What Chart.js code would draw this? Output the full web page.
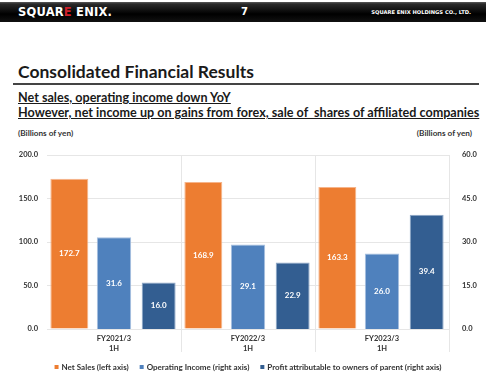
<!DOCTYPE html>
<html>
<head>
<meta charset="utf-8">
<script src="https://cdn.jsdelivr.net/npm/chart.js@4.4.1/dist/chart.umd.min.js"></script>
<style>
  body { margin: 0; width: 486px; height: 382px; background: #fff; font-family: Lato, "Liberation Sans", sans-serif; color: #1a1a1a; overflow: hidden; position: relative; }
  .header { position: absolute; left: 0; top: 2px; width: 486px; height: 20px; background: linear-gradient(#5a5a5a 0, #2a2a2a 2px, #000 60%, #111 100%); }
  .logo { position: absolute; left: 18px; top: 3px; color: #fff; font: bold 11.5px "DejaVu Sans", sans-serif; letter-spacing: 0.2px; }
  .logo span { color: #d0202a; }
  .page { position: absolute; left: 241px; top: 4px; color: #fff; font: bold 10px "DejaVu Sans", sans-serif; }
  .corp { position: absolute; right: 15px; top: 7px; color: #fff; font: bold 5.2px "DejaVu Sans", sans-serif; }
  .title { position: absolute; left: 18px; top: 61px; font-weight: bold; font-size: 17.5px; }
  .rule { position: absolute; left: 13px; top: 83px; width: 466px; height: 2px; background: #444; }
  .sub { position: absolute; left: 18px; font-weight: bold; font-size: 12.6px; text-decoration: underline; white-space: nowrap; }
  .unit { position: absolute; top: 128px; font-size: 8.2px; font-weight: bold; color: #333; }
  #wrap { position: absolute; left: 0; top: 120px; width: 486px; height: 262px; }
</style>
</head>
<body>
<div class="header">
  <div class="logo">SQUAR<span>E</span> ENIX.</div>
  <div class="page">7</div>
  <div class="corp">SQUARE ENIX HOLDINGS CO., LTD.</div>
</div>
<div class="title">Consolidated Financial Results</div>
<div class="rule"></div>
<div class="sub" style="top: 90px;">Net sales, operating income down YoY</div>
<div class="sub" style="top: 105px;">However, net income up on gains from forex, sale of&nbsp; shares of affiliated companies</div>
<div class="unit" style="left: 18px;">(Billions of yen)</div>
<div class="unit" style="right: 14px;">(Billions of yen)</div>
<div id="wrap"><canvas id="chart"></canvas></div>
<script>
// categories and series (billions of yen)
const periods = [['FY2021/3', '1H'], ['FY2022/3', '1H'], ['FY2023/3', '1H']];
const netSales = [172.7, 168.9, 163.3];
const operatingIncome = [31.6, 29.1, 26.0];
const profitParent = [16.0, 22.9, 39.4];

const leftTicks = [0, 50, 100, 150, 200];
const rightTicks = [0, 15, 30, 45, 60];

// white value labels centred in each bar
const valueLabels = {
  id: 'valueLabels',
  afterDatasetsDraw(chart) {
    const ctx = chart.ctx;
    ctx.save();
    ctx.fillStyle = '#ffffff';
    ctx.font = 'bold 8px Lato, sans-serif';
    ctx.textAlign = 'center';
    ctx.textBaseline = 'middle';
    chart.data.datasets.forEach((ds, i) => {
      chart.getDatasetMeta(i).data.forEach((bar, j) => {
        const p = bar.getProps(['x', 'y', 'base'], true);
        ctx.fillText(ds.data[j].toFixed(1), p.x, (p.y + p.base) / 2);
      });
    });
    ctx.restore();
  }
};

// compact one-row legend under the axis (built-in legend pads too much vertically)
const legendRow = {
  id: 'legendRow',
  afterDraw(chart) {
    const ctx = chart.ctx;
    const area = chart.chartArea;
    const box = 4, gap = 3, spacing = 11;
    ctx.save();
    ctx.font = 'bold 8px Lato, sans-serif';
    ctx.textBaseline = 'middle';
    const items = chart.data.datasets.map(ds => ({
      text: ds.label,
      color: ds.backgroundColor,
      w: box + gap + ctx.measureText(ds.label).width
    }));
    const total = items.reduce((s, it) => s + it.w, 0) + spacing * (items.length - 1);
    let x = (area.left + area.right) / 2 - total / 2;
    const y = area.bottom + 38;
    items.forEach(it => {
      ctx.fillStyle = it.color;
      ctx.fillRect(x, y - box / 2, box, box);
      ctx.fillStyle = '#333';
      ctx.fillText(it.text, x + box + gap, y);
      x += it.w + spacing;
    });
    ctx.restore();
  }
};

const tickFont = { family: 'Lato, sans-serif', size: 7.5, weight: 'bold' };

new Chart(document.getElementById('chart'), {
  type: 'bar',
  data: {
    labels: periods,
    datasets: [
      { label: 'Net Sales (left axis)', data: netSales, yAxisID: 'y', barPercentage: 0.85,
        backgroundColor: '#ED7D31', borderColor: '#F6B48A', borderWidth: 1 },
      { label: 'Operating Income (right axis)', data: operatingIncome, yAxisID: 'y1', barPercentage: 0.77,
        backgroundColor: '#4F81BD', borderColor: '#A7C0E0', borderWidth: 1 },
      { label: 'Profit attributable to owners of parent (right axis)', data: profitParent, yAxisID: 'y1', barPercentage: 0.76,
        backgroundColor: '#335E91', borderColor: '#8FA8C8', borderWidth: 1 }
    ]
  },
  options: {
    responsive: true,
    maintainAspectRatio: false,
    animation: false,
    categoryPercentage: 1.0,
    layout: { padding: { top: 35, bottom: 23, left: 0, right: 0 } },
    plugins: {
      legend: { display: false },
      tooltip: { enabled: false }
    },
    scales: {
      x: {
        border: { display: false },
        grid: {
          offset: true,
          tickLength: 23,
          color: (c) => (c.index === 0 || c.index === periods.length) ? 'rgba(0,0,0,0)' : '#e6e6e6'
        },
        ticks: { padding: -18, color: '#333', font: { ...tickFont, lineHeight: 1.3 } },
        afterFit: (s) => { s.height = 30; }
      },
      y: {
        position: 'left',
        min: 0, max: 200,
        afterBuildTicks: (s) => { s.ticks = leftTicks.map(v => ({ value: v })); },
        border: { display: false },
        grid: { color: '#e6e6e6', drawTicks: false },
        ticks: { padding: 9, color: '#333', font: tickFont, callback: (v) => v.toFixed(1) },
        afterFit: (s) => { s.width = 47; }
      },
      y1: {
        position: 'right',
        min: 0, max: 60,
        afterBuildTicks: (s) => { s.ticks = rightTicks.map(v => ({ value: v })); },
        border: { display: false },
        grid: { display: false },
        ticks: { padding: 5, color: '#333', font: tickFont, callback: (v) => v.toFixed(1) },
        afterFit: (s) => { s.width = 37; }
      }
    }
  },
  plugins: [valueLabels, legendRow]
});
</script>
</body>
</html>
